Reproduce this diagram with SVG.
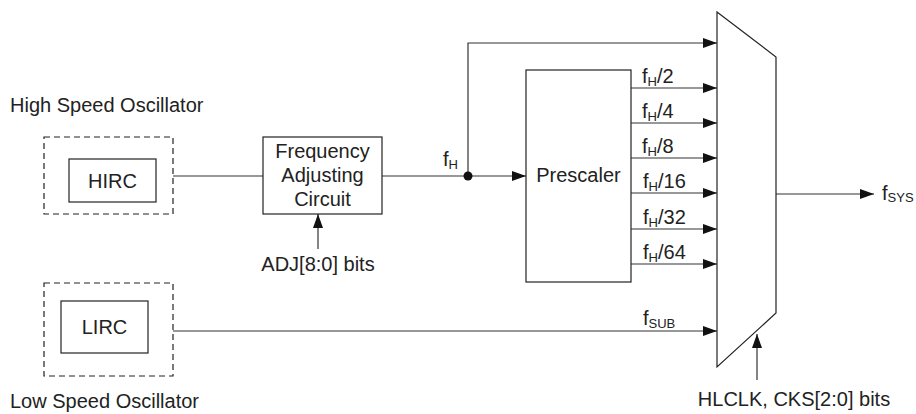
<svg xmlns="http://www.w3.org/2000/svg" width="916" height="414" viewBox="0 0 916 414">
<style>
text{font-family:"Liberation Sans",Arial,sans-serif;font-size:20px;fill:#222}
.sub{font-size:13px}
.box{fill:#fff;stroke:#222;stroke-width:1.2}
.dash{fill:none;stroke:#222;stroke-width:1.2;stroke-dasharray:6,4}
.ln{fill:none;stroke:#333;stroke-width:1.2}
</style>
<defs>
<marker id="ah" markerUnits="userSpaceOnUse" markerWidth="15" markerHeight="10" refX="14" refY="5" orient="auto">
<path d="M0,0 L14,5 L0,10 Z" fill="#111"/>
</marker>
</defs>
<rect width="916" height="414" fill="#fff"/>
<g id="connectors">
<line class="ln" x1="173" y1="176" x2="263" y2="176"/>
<line class="ln" x1="382" y1="176" x2="526" y2="176" marker-end="url(#ah)"/>
<polyline class="ln" points="468,176 468,43 717,43" marker-end="url(#ah)"/>
<line class="ln" x1="318" y1="249" x2="318" y2="214" marker-end="url(#ah)"/>
<line class="ln" x1="631" y1="88" x2="717" y2="88" marker-end="url(#ah)"/>
<line class="ln" x1="631" y1="123" x2="717" y2="123" marker-end="url(#ah)"/>
<line class="ln" x1="631" y1="158" x2="717" y2="158" marker-end="url(#ah)"/>
<line class="ln" x1="631" y1="193" x2="717" y2="193" marker-end="url(#ah)"/>
<line class="ln" x1="631" y1="229" x2="717" y2="229" marker-end="url(#ah)"/>
<line class="ln" x1="631" y1="264" x2="717" y2="264" marker-end="url(#ah)"/>
<line class="ln" x1="173" y1="331" x2="717" y2="331" marker-end="url(#ah)"/>
<line class="ln" x1="776" y1="194" x2="874" y2="194" marker-end="url(#ah)"/>
<line class="ln" x1="757" y1="380" x2="757" y2="334" marker-end="url(#ah)"/>
<circle cx="468" cy="176" r="4.5" fill="#111"/>
<text x="443" y="166">f<tspan class="sub" dy="3">H</tspan></text>
<text x="642" y="83">f<tspan class="sub" dy="3">H</tspan><tspan dy="-3">/2</tspan></text>
<text x="642" y="118">f<tspan class="sub" dy="3">H</tspan><tspan dy="-3">/4</tspan></text>
<text x="642" y="153">f<tspan class="sub" dy="3">H</tspan><tspan dy="-3">/8</tspan></text>
<text x="643" y="188">f<tspan class="sub" dy="3">H</tspan><tspan dy="-3">/16</tspan></text>
<text x="643" y="224">f<tspan class="sub" dy="3">H</tspan><tspan dy="-3">/32</tspan></text>
<text x="643" y="259">f<tspan class="sub" dy="3">H</tspan><tspan dy="-3">/64</tspan></text>
<text x="643" y="325">f<tspan class="sub" dy="3">SUB</tspan></text>
<text x="882" y="200">f<tspan class="sub" dy="2">SYS</tspan></text>
</g>
<g id="hs-osc">
<text x="10" y="112">High Speed Oscillator</text>
<rect class="dash" x="44" y="137" width="129" height="77"/>
</g>
<g id="hirc">
<rect class="box" x="69" y="159" width="87" height="43"/>
<text x="112.5" y="188" text-anchor="middle">HIRC</text>
</g>
<g id="freq-adj">
<rect class="box" x="263" y="137" width="119" height="77"/>
<text x="322.5" y="158" text-anchor="middle">Frequency</text>
<text x="322.5" y="182" text-anchor="middle">Adjusting</text>
<text x="322.5" y="206" text-anchor="middle">Circuit</text>
</g>
<g id="adj-label">
<text x="318" y="271" text-anchor="middle">ADJ[8:0] bits</text>
</g>
<g id="prescaler">
<rect class="box" x="526" y="70" width="105" height="212"/>
<text x="578.5" y="182" text-anchor="middle">Prescaler</text>
</g>
<g id="ls-osc">
<rect class="dash" x="44" y="283" width="129" height="93"/>
<text x="10" y="408">Low Speed Oscillator</text>
</g>
<g id="lirc">
<rect class="box" x="61" y="301" width="87" height="52"/>
<text x="104.5" y="334" text-anchor="middle">LIRC</text>
</g>
<g id="mux">
<polygon class="box" points="717,12 776,57 776,313 717,367"/>
</g>
<g id="sel-label">
<text x="794" y="406" text-anchor="middle">HLCLK, CKS[2:0] bits</text>
</g>
</svg>
